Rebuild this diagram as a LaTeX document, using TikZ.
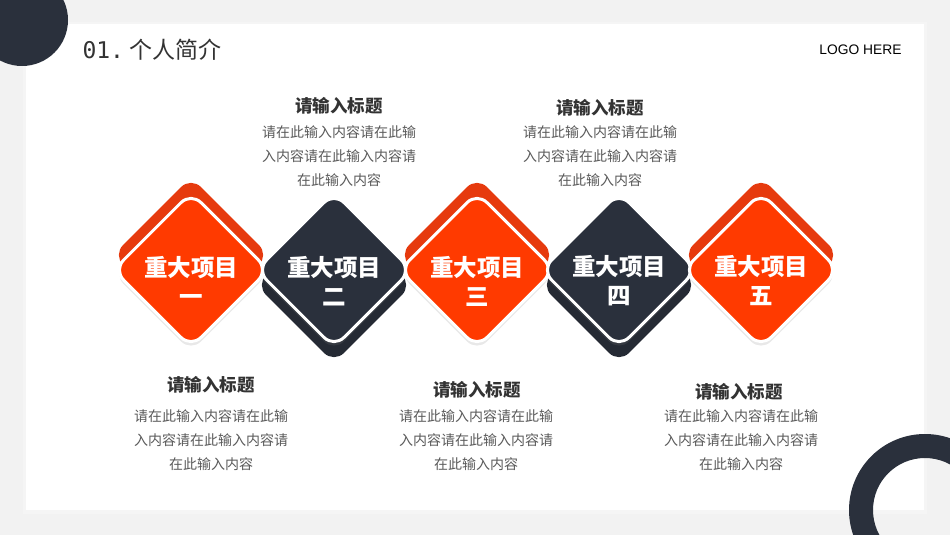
\documentclass[tikz,border=0pt]{standalone}
\usepackage{fontspec}
\setmainfont{Liberation Sans}
\newfontfamily\cjk{Noto Sans CJK SC}
\newfontfamily\mono{DejaVu Sans Mono}
\usetikzlibrary{shapes.geometric,shadows}
\definecolor{fire}{HTML}{FF3A00}
\definecolor{fireback}{HTML}{E63A0E}
\definecolor{navy}{HTML}{2A303C}
\definecolor{navyback}{HTML}{252A34}
\definecolor{inkgray}{HTML}{333333}
\definecolor{bodygray}{HTML}{5A5A5A}
\definecolor{pagegray}{HTML}{F2F2F2}

\begin{document}
\begin{tikzpicture}[x = 1pt, y = -1pt]
        \tikzstyle{plate} = [diamond, minimum width = 156pt, minimum height = 156pt, inner sep = 0pt, rounded corners = 14pt]
        \tikzstyle{front} = [plate, draw = white, line width = 3pt, drop shadow = {opacity = 0.18, shadow xshift = 0pt, shadow yshift = -4pt}]
        \tikzstyle{itemtext} = [text = white, font = \cjk\bfseries\fontsize{23.5}{29}\selectfont, align = center]
        \tikzstyle{heading} = [text = inkgray, font = \cjk\bfseries\fontsize{17.5}{21}\selectfont]
        \tikzstyle{bodytext} = [text = bodygray, font = \cjk\fontsize{14}{24}\selectfont, align = center, anchor = north, inner sep = 0pt]
        \useasboundingbox (0,0) rectangle (950,535);
        \clip (0,0) rectangle (950,535);
        % page and card
        \fill[pagegray] (0,0) rectangle (950,535);
        \fill[black!4] (23,22) rectangle (927,514);
        \fill[white] (26,24) rectangle (924,510);
        \fill[navy] (22,20) circle (46pt);
        \fill[navy, even odd rule] (925,510) circle (76pt) (925,510) circle (52pt);

        \node[anchor = west, text = inkgray, font = \fontsize{23}{26}\selectfont] (Header) at (79,50) {{\mono 01.}\hspace{5pt}{\cjk 个人简介}};
        \node[anchor = east, text = black, font = \fontsize{13.8}{16}\selectfont] (Logo) at (905,50) {LOGO HERE};

        % diamonds
        \node[plate, fill = fireback] (Back1) at (191,255) {};
        \node[plate, fill = navyback] (Back2) at (334,285) {};
        \node[plate, fill = fireback] (Back3) at (477,255) {};
        \node[plate, fill = navyback] (Back4) at (619,285) {};
        \node[plate, fill = fireback] (Back5) at (761,255) {};
        \node[front, fill = fire] (Item1) at (191,270) {};
        \node[front, fill = navy] (Item2) at (334,270) {};
        \node[front, fill = fire] (Item3) at (477,270) {};
        \node[front, fill = navy] (Item4) at (619,270) {};
        \node[front, fill = fire] (Item5) at (761,270) {};
        \node[itemtext] (Name1) at ([yshift = -11pt]Item1.center) {重大项目\\一};
        \node[itemtext] (Name2) at ([yshift = -11pt]Item2.center) {重大项目\\二};
        \node[itemtext] (Name3) at ([yshift = -11pt]Item3.center) {重大项目\\三};
        \node[itemtext] (Name4) at ([yshift = -11pt]Item4.center) {重大项目\\四};
        \node[itemtext] (Name5) at ([yshift = -11pt]Item5.center) {重大项目\\五};

        % texts
        \node[heading] (Title2) at (339,106) {请输入标题};
        \node[bodytext] (Body2) at (339,125) {请在此输入内容请在此输\\入内容请在此输入内容请\\在此输入内容};
        \node[heading] (Title4) at (600,108) {请输入标题};
        \node[bodytext] (Body4) at (600,125) {请在此输入内容请在此输\\入内容请在此输入内容请\\在此输入内容};
        \node[heading] (Title1) at (211,385) {请输入标题};
        \node[bodytext] (Body1) at (211,409) {请在此输入内容请在此输\\入内容请在此输入内容请\\在此输入内容};
        \node[heading] (Title3) at (477,390) {请输入标题};
        \node[bodytext] (Body3) at (476,409) {请在此输入内容请在此输\\入内容请在此输入内容请\\在此输入内容};
        \node[heading] (Title5) at (739,392) {请输入标题};
        \node[bodytext] (Body5) at (741,409) {请在此输入内容请在此输\\入内容请在此输入内容请\\在此输入内容};

    \end{tikzpicture}
\end{document}
